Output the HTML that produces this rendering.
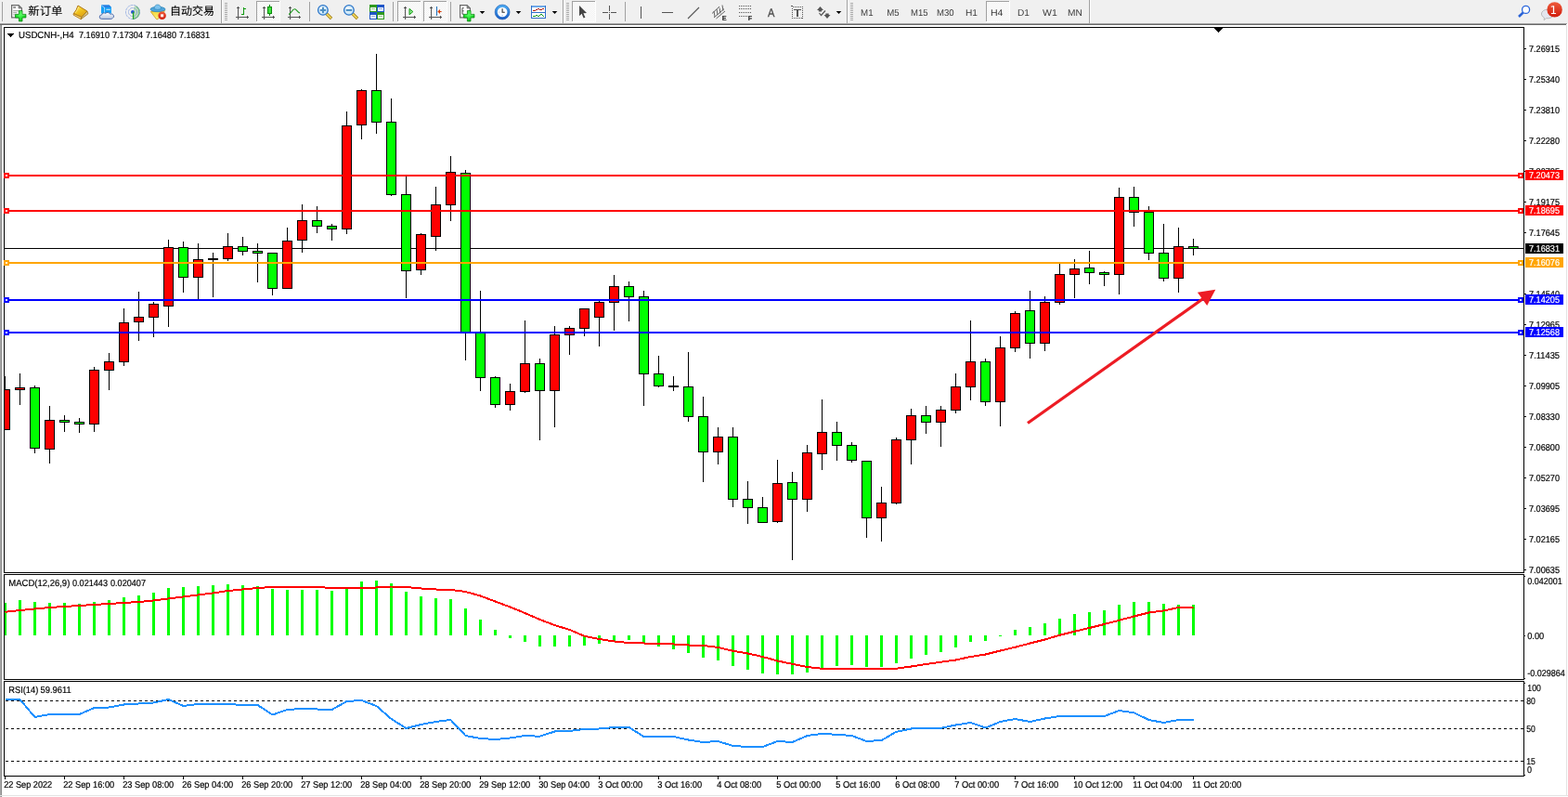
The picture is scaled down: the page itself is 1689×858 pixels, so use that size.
<!DOCTYPE html>
<html lang="zh-CN"><head><meta charset="utf-8"><title>USDCNH-,H4</title>
<style>
html,body{margin:0;padding:0;background:#fff;}
body{width:1689px;height:858px;overflow:hidden;position:relative;font-family:"Liberation Sans","Noto Sans CJK SC",sans-serif;}
.chart{position:absolute;left:0;top:0;display:block;}
.tb{position:absolute;left:0;top:0;width:1689px;height:25px;background:#f0f0f0;}
.tbl1{position:absolute;left:0;top:25px;width:1688px;height:1px;background:#a0a0a0;}
.tbl2{position:absolute;left:0;top:26px;width:1687px;height:1px;background:#696969;}
.tb svg{position:absolute;left:0;top:0;}
.t{position:absolute;white-space:nowrap;color:#000;line-height:1;}
</style></head>
<body>
<svg class="chart" width="1689" height="858" viewBox="0 0 1689 858" font-family="Liberation Sans, sans-serif" shape-rendering="crispEdges" text-rendering="geometricPrecision">
<defs><clipPath id="cm"><rect x="5" y="30" width="1636" height="586"/></clipPath><clipPath id="c2"><rect x="5" y="619" width="1636" height="112"/></clipPath><clipPath id="c3"><rect x="5" y="734" width="1636" height="101"/></clipPath></defs>
<rect x="0" y="27" width="1" height="831" fill="#a8a8a8"/>
<rect x="1" y="27" width="1" height="831" fill="#8c8c8c"/>
<rect x="1687" y="27" width="1" height="830" fill="#e3e3e3"/>
<rect x="0" y="856" width="1689" height="1" fill="#e3e3e3"/>
<rect x="4" y="29" width="1638" height="1" fill="#000"/>
<rect x="4" y="29" width="1" height="588" fill="#000"/>
<rect x="1641" y="29" width="1" height="588" fill="#000"/>
<rect x="4" y="616" width="1638" height="1" fill="#000"/>
<rect x="4" y="618" width="1638" height="1" fill="#000"/>
<rect x="4" y="618" width="1" height="114" fill="#000"/>
<rect x="1641" y="618" width="1" height="114" fill="#000"/>
<rect x="4" y="731" width="1638" height="1" fill="#000"/>
<rect x="4" y="733" width="1638" height="1" fill="#000"/>
<rect x="4" y="733" width="1" height="103" fill="#000"/>
<rect x="1641" y="733" width="1" height="103" fill="#000"/>
<rect x="4" y="835" width="1638" height="1" fill="#000"/>
<g clip-path="url(#cm)">
<rect x="5" y="267" width="1636" height="1" fill="#000"/>
<rect x="5" y="405" width="1" height="58" fill="#000"/>
<rect x="0" y="419" width="11" height="44" fill="#000"/>
<rect x="1" y="420" width="9" height="42" fill="#ff0000"/>
<rect x="21" y="402" width="1" height="34" fill="#000"/>
<rect x="16" y="417" width="11" height="3" fill="#000"/>
<rect x="17" y="418" width="9" height="1" fill="#ff0000"/>
<rect x="37" y="415" width="1" height="73" fill="#000"/>
<rect x="32" y="417" width="11" height="66" fill="#000"/>
<rect x="33" y="418" width="9" height="64" fill="#00ff00"/>
<rect x="53" y="437" width="1" height="62" fill="#000"/>
<rect x="48" y="452" width="11" height="32" fill="#000"/>
<rect x="49" y="453" width="9" height="30" fill="#ff0000"/>
<rect x="69" y="447" width="1" height="18" fill="#000"/>
<rect x="64" y="452" width="11" height="3" fill="#000"/>
<rect x="65" y="453" width="9" height="1" fill="#00ff00"/>
<rect x="85" y="450" width="1" height="16" fill="#000"/>
<rect x="80" y="454" width="11" height="3" fill="#000"/>
<rect x="81" y="455" width="9" height="1" fill="#00ff00"/>
<rect x="101" y="395" width="1" height="70" fill="#000"/>
<rect x="96" y="398" width="11" height="59" fill="#000"/>
<rect x="97" y="399" width="9" height="57" fill="#ff0000"/>
<rect x="117" y="380" width="1" height="40" fill="#000"/>
<rect x="112" y="389" width="11" height="10" fill="#000"/>
<rect x="113" y="390" width="9" height="8" fill="#ff0000"/>
<rect x="133" y="332" width="1" height="62" fill="#000"/>
<rect x="128" y="347" width="11" height="43" fill="#000"/>
<rect x="129" y="348" width="9" height="41" fill="#ff0000"/>
<rect x="149" y="314" width="1" height="53" fill="#000"/>
<rect x="144" y="341" width="11" height="6" fill="#000"/>
<rect x="145" y="342" width="9" height="4" fill="#ff0000"/>
<rect x="165" y="325" width="1" height="38" fill="#000"/>
<rect x="160" y="327" width="11" height="15" fill="#000"/>
<rect x="161" y="328" width="9" height="13" fill="#ff0000"/>
<rect x="181" y="258" width="1" height="94" fill="#000"/>
<rect x="176" y="266" width="11" height="64" fill="#000"/>
<rect x="177" y="267" width="9" height="62" fill="#ff0000"/>
<rect x="197" y="260" width="1" height="55" fill="#000"/>
<rect x="192" y="266" width="11" height="33" fill="#000"/>
<rect x="193" y="267" width="9" height="31" fill="#00ff00"/>
<rect x="213" y="262" width="1" height="60" fill="#000"/>
<rect x="208" y="279" width="11" height="20" fill="#000"/>
<rect x="209" y="280" width="9" height="18" fill="#ff0000"/>
<rect x="229" y="272" width="1" height="48" fill="#000"/>
<rect x="224" y="278" width="11" height="2" fill="#000"/>
<rect x="245" y="251" width="1" height="30" fill="#000"/>
<rect x="240" y="265" width="11" height="14" fill="#000"/>
<rect x="241" y="266" width="9" height="12" fill="#ff0000"/>
<rect x="261" y="255" width="1" height="20" fill="#000"/>
<rect x="256" y="265" width="11" height="6" fill="#000"/>
<rect x="257" y="266" width="9" height="4" fill="#00ff00"/>
<rect x="277" y="262" width="1" height="42" fill="#000"/>
<rect x="272" y="270" width="11" height="3" fill="#000"/>
<rect x="273" y="271" width="9" height="1" fill="#00ff00"/>
<rect x="293" y="272" width="1" height="46" fill="#000"/>
<rect x="288" y="272" width="11" height="39" fill="#000"/>
<rect x="289" y="273" width="9" height="37" fill="#00ff00"/>
<rect x="309" y="245" width="1" height="66" fill="#000"/>
<rect x="304" y="259" width="11" height="52" fill="#000"/>
<rect x="305" y="260" width="9" height="50" fill="#ff0000"/>
<rect x="325" y="220" width="1" height="52" fill="#000"/>
<rect x="320" y="237" width="11" height="22" fill="#000"/>
<rect x="321" y="238" width="9" height="20" fill="#ff0000"/>
<rect x="341" y="222" width="1" height="29" fill="#000"/>
<rect x="336" y="237" width="11" height="7" fill="#000"/>
<rect x="337" y="238" width="9" height="5" fill="#00ff00"/>
<rect x="357" y="241" width="1" height="18" fill="#000"/>
<rect x="352" y="243" width="11" height="4" fill="#000"/>
<rect x="353" y="244" width="9" height="2" fill="#00ff00"/>
<rect x="373" y="120" width="1" height="132" fill="#000"/>
<rect x="368" y="135" width="11" height="112" fill="#000"/>
<rect x="369" y="136" width="9" height="110" fill="#ff0000"/>
<rect x="389" y="96" width="1" height="54" fill="#000"/>
<rect x="384" y="97" width="11" height="38" fill="#000"/>
<rect x="385" y="98" width="9" height="36" fill="#ff0000"/>
<rect x="405" y="58" width="1" height="86" fill="#000"/>
<rect x="400" y="97" width="11" height="35" fill="#000"/>
<rect x="401" y="98" width="9" height="33" fill="#00ff00"/>
<rect x="421" y="106" width="1" height="105" fill="#000"/>
<rect x="416" y="131" width="11" height="79" fill="#000"/>
<rect x="417" y="132" width="9" height="77" fill="#00ff00"/>
<rect x="437" y="190" width="1" height="131" fill="#000"/>
<rect x="432" y="209" width="11" height="83" fill="#000"/>
<rect x="433" y="210" width="9" height="81" fill="#00ff00"/>
<rect x="453" y="251" width="1" height="45" fill="#000"/>
<rect x="448" y="252" width="11" height="39" fill="#000"/>
<rect x="449" y="253" width="9" height="37" fill="#ff0000"/>
<rect x="469" y="201" width="1" height="69" fill="#000"/>
<rect x="464" y="220" width="11" height="35" fill="#000"/>
<rect x="465" y="221" width="9" height="33" fill="#ff0000"/>
<rect x="485" y="168" width="1" height="70" fill="#000"/>
<rect x="480" y="185" width="11" height="36" fill="#000"/>
<rect x="481" y="186" width="9" height="34" fill="#ff0000"/>
<rect x="501" y="183" width="1" height="205" fill="#000"/>
<rect x="496" y="186" width="11" height="172" fill="#000"/>
<rect x="497" y="187" width="9" height="170" fill="#00ff00"/>
<rect x="517" y="313" width="1" height="108" fill="#000"/>
<rect x="512" y="358" width="11" height="49" fill="#000"/>
<rect x="513" y="359" width="9" height="47" fill="#00ff00"/>
<rect x="533" y="405" width="1" height="34" fill="#000"/>
<rect x="528" y="406" width="11" height="30" fill="#000"/>
<rect x="529" y="407" width="9" height="28" fill="#00ff00"/>
<rect x="549" y="413" width="1" height="29" fill="#000"/>
<rect x="544" y="421" width="11" height="15" fill="#000"/>
<rect x="545" y="422" width="9" height="13" fill="#ff0000"/>
<rect x="565" y="345" width="1" height="78" fill="#000"/>
<rect x="560" y="391" width="11" height="31" fill="#000"/>
<rect x="561" y="392" width="9" height="29" fill="#ff0000"/>
<rect x="581" y="386" width="1" height="88" fill="#000"/>
<rect x="576" y="391" width="11" height="30" fill="#000"/>
<rect x="577" y="392" width="9" height="28" fill="#00ff00"/>
<rect x="597" y="351" width="1" height="109" fill="#000"/>
<rect x="592" y="360" width="11" height="61" fill="#000"/>
<rect x="593" y="361" width="9" height="59" fill="#ff0000"/>
<rect x="613" y="351" width="1" height="31" fill="#000"/>
<rect x="608" y="353" width="11" height="8" fill="#000"/>
<rect x="609" y="354" width="9" height="6" fill="#ff0000"/>
<rect x="629" y="332" width="1" height="30" fill="#000"/>
<rect x="624" y="332" width="11" height="22" fill="#000"/>
<rect x="625" y="333" width="9" height="20" fill="#ff0000"/>
<rect x="645" y="324" width="1" height="49" fill="#000"/>
<rect x="640" y="325" width="11" height="17" fill="#000"/>
<rect x="641" y="326" width="9" height="15" fill="#ff0000"/>
<rect x="661" y="296" width="1" height="60" fill="#000"/>
<rect x="656" y="308" width="11" height="18" fill="#000"/>
<rect x="657" y="309" width="9" height="16" fill="#ff0000"/>
<rect x="677" y="303" width="1" height="43" fill="#000"/>
<rect x="672" y="308" width="11" height="12" fill="#000"/>
<rect x="673" y="309" width="9" height="10" fill="#00ff00"/>
<rect x="693" y="313" width="1" height="124" fill="#000"/>
<rect x="688" y="319" width="11" height="84" fill="#000"/>
<rect x="689" y="320" width="9" height="82" fill="#00ff00"/>
<rect x="709" y="383" width="1" height="34" fill="#000"/>
<rect x="704" y="402" width="11" height="14" fill="#000"/>
<rect x="705" y="403" width="9" height="12" fill="#00ff00"/>
<rect x="725" y="405" width="1" height="16" fill="#000"/>
<rect x="720" y="415" width="11" height="2" fill="#000"/>
<rect x="741" y="379" width="1" height="75" fill="#000"/>
<rect x="736" y="416" width="11" height="33" fill="#000"/>
<rect x="737" y="417" width="9" height="31" fill="#00ff00"/>
<rect x="757" y="427" width="1" height="92" fill="#000"/>
<rect x="752" y="448" width="11" height="39" fill="#000"/>
<rect x="753" y="449" width="9" height="37" fill="#00ff00"/>
<rect x="773" y="460" width="1" height="40" fill="#000"/>
<rect x="768" y="470" width="11" height="17" fill="#000"/>
<rect x="769" y="471" width="9" height="15" fill="#ff0000"/>
<rect x="789" y="460" width="1" height="86" fill="#000"/>
<rect x="784" y="470" width="11" height="68" fill="#000"/>
<rect x="785" y="471" width="9" height="66" fill="#00ff00"/>
<rect x="805" y="518" width="1" height="46" fill="#000"/>
<rect x="800" y="537" width="11" height="10" fill="#000"/>
<rect x="801" y="538" width="9" height="8" fill="#00ff00"/>
<rect x="821" y="535" width="1" height="28" fill="#000"/>
<rect x="816" y="546" width="11" height="17" fill="#000"/>
<rect x="817" y="547" width="9" height="15" fill="#00ff00"/>
<rect x="837" y="495" width="1" height="68" fill="#000"/>
<rect x="832" y="520" width="11" height="42" fill="#000"/>
<rect x="833" y="521" width="9" height="40" fill="#ff0000"/>
<rect x="853" y="508" width="1" height="95" fill="#000"/>
<rect x="848" y="519" width="11" height="19" fill="#000"/>
<rect x="849" y="520" width="9" height="17" fill="#00ff00"/>
<rect x="869" y="479" width="1" height="72" fill="#000"/>
<rect x="864" y="487" width="11" height="51" fill="#000"/>
<rect x="865" y="488" width="9" height="49" fill="#ff0000"/>
<rect x="885" y="430" width="1" height="76" fill="#000"/>
<rect x="880" y="465" width="11" height="24" fill="#000"/>
<rect x="881" y="466" width="9" height="22" fill="#ff0000"/>
<rect x="901" y="454" width="1" height="42" fill="#000"/>
<rect x="896" y="465" width="11" height="15" fill="#000"/>
<rect x="897" y="466" width="9" height="13" fill="#00ff00"/>
<rect x="917" y="476" width="1" height="22" fill="#000"/>
<rect x="912" y="479" width="11" height="17" fill="#000"/>
<rect x="913" y="480" width="9" height="15" fill="#00ff00"/>
<rect x="933" y="496" width="1" height="83" fill="#000"/>
<rect x="928" y="496" width="11" height="62" fill="#000"/>
<rect x="929" y="497" width="9" height="60" fill="#00ff00"/>
<rect x="949" y="524" width="1" height="59" fill="#000"/>
<rect x="944" y="541" width="11" height="17" fill="#000"/>
<rect x="945" y="542" width="9" height="15" fill="#ff0000"/>
<rect x="965" y="471" width="1" height="72" fill="#000"/>
<rect x="960" y="473" width="11" height="69" fill="#000"/>
<rect x="961" y="474" width="9" height="67" fill="#ff0000"/>
<rect x="981" y="440" width="1" height="60" fill="#000"/>
<rect x="976" y="447" width="11" height="27" fill="#000"/>
<rect x="977" y="448" width="9" height="25" fill="#ff0000"/>
<rect x="997" y="437" width="1" height="30" fill="#000"/>
<rect x="992" y="447" width="11" height="8" fill="#000"/>
<rect x="993" y="448" width="9" height="6" fill="#00ff00"/>
<rect x="1013" y="437" width="1" height="44" fill="#000"/>
<rect x="1008" y="441" width="11" height="14" fill="#000"/>
<rect x="1009" y="442" width="9" height="12" fill="#ff0000"/>
<rect x="1029" y="402" width="1" height="43" fill="#000"/>
<rect x="1024" y="416" width="11" height="26" fill="#000"/>
<rect x="1025" y="417" width="9" height="24" fill="#ff0000"/>
<rect x="1045" y="345" width="1" height="86" fill="#000"/>
<rect x="1040" y="389" width="11" height="28" fill="#000"/>
<rect x="1041" y="390" width="9" height="26" fill="#ff0000"/>
<rect x="1061" y="386" width="1" height="51" fill="#000"/>
<rect x="1056" y="389" width="11" height="44" fill="#000"/>
<rect x="1057" y="390" width="9" height="42" fill="#00ff00"/>
<rect x="1077" y="362" width="1" height="97" fill="#000"/>
<rect x="1072" y="374" width="11" height="59" fill="#000"/>
<rect x="1073" y="375" width="9" height="57" fill="#ff0000"/>
<rect x="1093" y="335" width="1" height="44" fill="#000"/>
<rect x="1088" y="337" width="11" height="38" fill="#000"/>
<rect x="1089" y="338" width="9" height="36" fill="#ff0000"/>
<rect x="1109" y="313" width="1" height="73" fill="#000"/>
<rect x="1104" y="334" width="11" height="36" fill="#000"/>
<rect x="1105" y="335" width="9" height="34" fill="#00ff00"/>
<rect x="1125" y="319" width="1" height="59" fill="#000"/>
<rect x="1120" y="325" width="11" height="45" fill="#000"/>
<rect x="1121" y="326" width="9" height="43" fill="#ff0000"/>
<rect x="1141" y="284" width="1" height="44" fill="#000"/>
<rect x="1136" y="295" width="11" height="31" fill="#000"/>
<rect x="1137" y="296" width="9" height="29" fill="#ff0000"/>
<rect x="1157" y="279" width="1" height="42" fill="#000"/>
<rect x="1152" y="289" width="11" height="7" fill="#000"/>
<rect x="1153" y="290" width="9" height="5" fill="#ff0000"/>
<rect x="1173" y="270" width="1" height="36" fill="#000"/>
<rect x="1168" y="288" width="11" height="6" fill="#000"/>
<rect x="1169" y="289" width="9" height="4" fill="#00ff00"/>
<rect x="1189" y="292" width="1" height="16" fill="#000"/>
<rect x="1184" y="293" width="11" height="3" fill="#000"/>
<rect x="1185" y="294" width="9" height="1" fill="#00ff00"/>
<rect x="1205" y="202" width="1" height="115" fill="#000"/>
<rect x="1200" y="212" width="11" height="84" fill="#000"/>
<rect x="1201" y="213" width="9" height="82" fill="#ff0000"/>
<rect x="1221" y="201" width="1" height="43" fill="#000"/>
<rect x="1216" y="212" width="11" height="17" fill="#000"/>
<rect x="1217" y="213" width="9" height="15" fill="#00ff00"/>
<rect x="1237" y="222" width="1" height="58" fill="#000"/>
<rect x="1232" y="228" width="11" height="45" fill="#000"/>
<rect x="1233" y="229" width="9" height="43" fill="#00ff00"/>
<rect x="1253" y="241" width="1" height="62" fill="#000"/>
<rect x="1248" y="272" width="11" height="28" fill="#000"/>
<rect x="1249" y="273" width="9" height="26" fill="#00ff00"/>
<rect x="1269" y="245" width="1" height="70" fill="#000"/>
<rect x="1264" y="265" width="11" height="35" fill="#000"/>
<rect x="1265" y="266" width="9" height="33" fill="#ff0000"/>
<rect x="1285" y="257" width="1" height="18" fill="#000"/>
<rect x="1280" y="265" width="11" height="3" fill="#000"/>
<rect x="1281" y="266" width="9" height="1" fill="#00ff00"/>
</g>
<rect x="5" y="188" width="1636" height="2" fill="#ff0000"/>
<rect x="5" y="226" width="1636" height="2" fill="#ff0000"/>
<rect x="5" y="282" width="1636" height="2" fill="#ffa500"/>
<rect x="5" y="322" width="1636" height="2" fill="#0000ff"/>
<rect x="5" y="357" width="1636" height="2" fill="#0000ff"/>
<g shape-rendering="auto"><line x1="1107" y1="455.5" x2="1296" y2="321.5" stroke="#ed1c24" stroke-width="3.2"/><polygon points="1309.3,311.7 1289.9,314.7 1300.2,329" fill="#ed1c24"/></g>
<rect x="4" y="186" width="6" height="6" fill="#ff0000"/>
<rect x="6" y="188" width="2" height="2" fill="#fff"/>
<rect x="1635" y="186" width="6" height="6" fill="#ff0000"/>
<rect x="1637" y="188" width="2" height="2" fill="#fff"/>
<rect x="4" y="224" width="6" height="6" fill="#ff0000"/>
<rect x="6" y="226" width="2" height="2" fill="#fff"/>
<rect x="1635" y="224" width="6" height="6" fill="#ff0000"/>
<rect x="1637" y="226" width="2" height="2" fill="#fff"/>
<rect x="4" y="280" width="6" height="6" fill="#ffa500"/>
<rect x="6" y="282" width="2" height="2" fill="#fff"/>
<rect x="1635" y="280" width="6" height="6" fill="#ffa500"/>
<rect x="1637" y="282" width="2" height="2" fill="#fff"/>
<rect x="4" y="320" width="6" height="6" fill="#0000ff"/>
<rect x="6" y="322" width="2" height="2" fill="#fff"/>
<rect x="1635" y="320" width="6" height="6" fill="#0000ff"/>
<rect x="1637" y="322" width="2" height="2" fill="#fff"/>
<rect x="4" y="355" width="6" height="6" fill="#0000ff"/>
<rect x="6" y="357" width="2" height="2" fill="#fff"/>
<rect x="1635" y="355" width="6" height="6" fill="#0000ff"/>
<rect x="1637" y="357" width="2" height="2" fill="#fff"/>
<rect x="1642" y="52" width="2" height="1" fill="#000"/>
<text x="1647" y="56" font-size="10" fill="#000" stroke="#000" stroke-width="0.2" textLength="33" lengthAdjust="spacingAndGlyphs" xml:space="preserve">7.26915</text>
<rect x="1642" y="85" width="2" height="1" fill="#000"/>
<text x="1647" y="89" font-size="10" fill="#000" stroke="#000" stroke-width="0.2" textLength="33" lengthAdjust="spacingAndGlyphs" xml:space="preserve">7.25340</text>
<rect x="1642" y="118" width="2" height="1" fill="#000"/>
<text x="1647" y="122" font-size="10" fill="#000" stroke="#000" stroke-width="0.2" textLength="33" lengthAdjust="spacingAndGlyphs" xml:space="preserve">7.23810</text>
<rect x="1642" y="151" width="2" height="1" fill="#000"/>
<text x="1647" y="155" font-size="10" fill="#000" stroke="#000" stroke-width="0.2" textLength="33" lengthAdjust="spacingAndGlyphs" xml:space="preserve">7.22280</text>
<rect x="1642" y="184" width="2" height="1" fill="#000"/>
<text x="1647" y="188" font-size="10" fill="#000" stroke="#000" stroke-width="0.2" textLength="33" lengthAdjust="spacingAndGlyphs" xml:space="preserve">7.20705</text>
<rect x="1642" y="217" width="2" height="1" fill="#000"/>
<text x="1647" y="221" font-size="10" fill="#000" stroke="#000" stroke-width="0.2" textLength="33" lengthAdjust="spacingAndGlyphs" xml:space="preserve">7.19175</text>
<rect x="1642" y="250" width="2" height="1" fill="#000"/>
<text x="1647" y="254" font-size="10" fill="#000" stroke="#000" stroke-width="0.2" textLength="33" lengthAdjust="spacingAndGlyphs" xml:space="preserve">7.17645</text>
<rect x="1642" y="316" width="2" height="1" fill="#000"/>
<text x="1647" y="320" font-size="10" fill="#000" stroke="#000" stroke-width="0.2" textLength="33" lengthAdjust="spacingAndGlyphs" xml:space="preserve">7.14540</text>
<rect x="1642" y="349" width="2" height="1" fill="#000"/>
<text x="1647" y="353" font-size="10" fill="#000" stroke="#000" stroke-width="0.2" textLength="33" lengthAdjust="spacingAndGlyphs" xml:space="preserve">7.12965</text>
<rect x="1642" y="382" width="2" height="1" fill="#000"/>
<text x="1647" y="386" font-size="10" fill="#000" stroke="#000" stroke-width="0.2" textLength="33" lengthAdjust="spacingAndGlyphs" xml:space="preserve">7.11435</text>
<rect x="1642" y="415" width="2" height="1" fill="#000"/>
<text x="1647" y="419" font-size="10" fill="#000" stroke="#000" stroke-width="0.2" textLength="33" lengthAdjust="spacingAndGlyphs" xml:space="preserve">7.09905</text>
<rect x="1642" y="448" width="2" height="1" fill="#000"/>
<text x="1647" y="452" font-size="10" fill="#000" stroke="#000" stroke-width="0.2" textLength="33" lengthAdjust="spacingAndGlyphs" xml:space="preserve">7.08330</text>
<rect x="1642" y="481" width="2" height="1" fill="#000"/>
<text x="1647" y="485" font-size="10" fill="#000" stroke="#000" stroke-width="0.2" textLength="33" lengthAdjust="spacingAndGlyphs" xml:space="preserve">7.06800</text>
<rect x="1642" y="514" width="2" height="1" fill="#000"/>
<text x="1647" y="518" font-size="10" fill="#000" stroke="#000" stroke-width="0.2" textLength="33" lengthAdjust="spacingAndGlyphs" xml:space="preserve">7.05270</text>
<rect x="1642" y="547" width="2" height="1" fill="#000"/>
<text x="1647" y="551" font-size="10" fill="#000" stroke="#000" stroke-width="0.2" textLength="33" lengthAdjust="spacingAndGlyphs" xml:space="preserve">7.03695</text>
<rect x="1642" y="580" width="2" height="1" fill="#000"/>
<text x="1647" y="584" font-size="10" fill="#000" stroke="#000" stroke-width="0.2" textLength="33" lengthAdjust="spacingAndGlyphs" xml:space="preserve">7.02165</text>
<rect x="1642" y="613" width="2" height="1" fill="#000"/>
<text x="1647" y="617" font-size="10" fill="#000" stroke="#000" stroke-width="0.2" textLength="33" lengthAdjust="spacingAndGlyphs" xml:space="preserve">7.00635</text>
<rect x="1642" y="620" width="1" height="1" fill="#000"/>
<text x="1645.2" y="629" font-size="10" fill="#000" stroke="#000" stroke-width="0.2" textLength="37.5" lengthAdjust="spacingAndGlyphs" xml:space="preserve">0.042001</text>
<rect x="1642" y="684" width="1" height="1" fill="#000"/>
<text x="1645.2" y="688" font-size="10" fill="#000" stroke="#000" stroke-width="0.2" textLength="18" lengthAdjust="spacingAndGlyphs" xml:space="preserve">0.00</text>
<rect x="1642" y="730" width="1" height="1" fill="#000"/>
<text x="1645.2" y="728" font-size="10" fill="#000" stroke="#000" stroke-width="0.2" textLength="40.5" lengthAdjust="spacingAndGlyphs" xml:space="preserve">-0.029864</text>
<rect x="1642" y="735" width="1" height="1" fill="#000"/>
<text x="1645.3" y="744" font-size="10" fill="#000" stroke="#000" stroke-width="0.2" textLength="14.5" lengthAdjust="spacingAndGlyphs" xml:space="preserve">100</text>
<text x="1644.3" y="758" font-size="10" fill="#000" stroke="#000" stroke-width="0.2" textLength="9.6" lengthAdjust="spacingAndGlyphs" xml:space="preserve">80</text>
<text x="1644.3" y="788" font-size="10" fill="#000" stroke="#000" stroke-width="0.2" textLength="9.6" lengthAdjust="spacingAndGlyphs" xml:space="preserve">50</text>
<text x="1644.3" y="823" font-size="10" fill="#000" stroke="#000" stroke-width="0.2" textLength="9.6" lengthAdjust="spacingAndGlyphs" xml:space="preserve">15</text>
<text x="1645" y="832" font-size="10" fill="#000" stroke="#000" stroke-width="0.2" textLength="5" lengthAdjust="spacingAndGlyphs" xml:space="preserve">0</text>
<rect x="1642" y="834" width="1" height="1" fill="#000"/>
<rect x="1643" y="262" width="41" height="11" fill="#000"/>
<text x="1647" y="271" font-size="10" fill="#fff" stroke="#fff" stroke-width="0.2" textLength="33" lengthAdjust="spacingAndGlyphs" xml:space="preserve">7.16831</text>
<rect x="1643" y="183" width="41" height="11" fill="#ff0000"/>
<text x="1647" y="192" font-size="10" fill="#fff" stroke="#fff" stroke-width="0.2" textLength="33" lengthAdjust="spacingAndGlyphs" xml:space="preserve">7.20473</text>
<rect x="1643" y="221" width="41" height="11" fill="#ff0000"/>
<text x="1647" y="230" font-size="10" fill="#fff" stroke="#fff" stroke-width="0.2" textLength="33" lengthAdjust="spacingAndGlyphs" xml:space="preserve">7.18695</text>
<rect x="1643" y="277" width="41" height="11" fill="#ffa500"/>
<text x="1647" y="286" font-size="10" fill="#fff" stroke="#fff" stroke-width="0.2" textLength="33" lengthAdjust="spacingAndGlyphs" xml:space="preserve">7.16076</text>
<rect x="1643" y="317" width="41" height="11" fill="#0000ff"/>
<text x="1647" y="326" font-size="10" fill="#fff" stroke="#fff" stroke-width="0.2" textLength="33" lengthAdjust="spacingAndGlyphs" xml:space="preserve">7.14205</text>
<rect x="1643" y="352" width="41" height="11" fill="#0000ff"/>
<text x="1647" y="361" font-size="10" fill="#fff" stroke="#fff" stroke-width="0.2" textLength="33" lengthAdjust="spacingAndGlyphs" xml:space="preserve">7.12568</text>
<g clip-path="url(#c2)">
<rect x="4" y="649" width="3" height="35" fill="#00ff00"/>
<rect x="20" y="646" width="3" height="38" fill="#00ff00"/>
<rect x="36" y="648" width="3" height="36" fill="#00ff00"/>
<rect x="52" y="649" width="3" height="35" fill="#00ff00"/>
<rect x="68" y="649" width="3" height="35" fill="#00ff00"/>
<rect x="84" y="650" width="3" height="34" fill="#00ff00"/>
<rect x="100" y="648" width="3" height="36" fill="#00ff00"/>
<rect x="116" y="646" width="3" height="38" fill="#00ff00"/>
<rect x="132" y="643" width="3" height="41" fill="#00ff00"/>
<rect x="148" y="641" width="3" height="43" fill="#00ff00"/>
<rect x="164" y="638" width="3" height="46" fill="#00ff00"/>
<rect x="180" y="633" width="3" height="51" fill="#00ff00"/>
<rect x="196" y="632" width="3" height="52" fill="#00ff00"/>
<rect x="212" y="631" width="3" height="53" fill="#00ff00"/>
<rect x="228" y="630" width="3" height="54" fill="#00ff00"/>
<rect x="244" y="629" width="3" height="55" fill="#00ff00"/>
<rect x="260" y="630" width="3" height="54" fill="#00ff00"/>
<rect x="276" y="631" width="3" height="53" fill="#00ff00"/>
<rect x="292" y="634" width="3" height="50" fill="#00ff00"/>
<rect x="308" y="635" width="3" height="49" fill="#00ff00"/>
<rect x="324" y="635" width="3" height="49" fill="#00ff00"/>
<rect x="340" y="635" width="3" height="49" fill="#00ff00"/>
<rect x="356" y="636" width="3" height="48" fill="#00ff00"/>
<rect x="372" y="634" width="3" height="50" fill="#00ff00"/>
<rect x="388" y="626" width="3" height="58" fill="#00ff00"/>
<rect x="404" y="625" width="3" height="59" fill="#00ff00"/>
<rect x="420" y="628" width="3" height="56" fill="#00ff00"/>
<rect x="436" y="637" width="3" height="47" fill="#00ff00"/>
<rect x="452" y="642" width="3" height="42" fill="#00ff00"/>
<rect x="468" y="644" width="3" height="40" fill="#00ff00"/>
<rect x="484" y="645" width="3" height="39" fill="#00ff00"/>
<rect x="500" y="655" width="3" height="29" fill="#00ff00"/>
<rect x="516" y="667" width="3" height="17" fill="#00ff00"/>
<rect x="532" y="678" width="3" height="6" fill="#00ff00"/>
<rect x="548" y="684" width="3" height="3" fill="#00ff00"/>
<rect x="564" y="684" width="3" height="7" fill="#00ff00"/>
<rect x="580" y="684" width="3" height="12" fill="#00ff00"/>
<rect x="596" y="684" width="3" height="12" fill="#00ff00"/>
<rect x="612" y="684" width="3" height="12" fill="#00ff00"/>
<rect x="628" y="684" width="3" height="11" fill="#00ff00"/>
<rect x="644" y="684" width="3" height="9" fill="#00ff00"/>
<rect x="660" y="684" width="3" height="6" fill="#00ff00"/>
<rect x="676" y="684" width="3" height="5" fill="#00ff00"/>
<rect x="692" y="684" width="3" height="8" fill="#00ff00"/>
<rect x="708" y="684" width="3" height="12" fill="#00ff00"/>
<rect x="724" y="684" width="3" height="15" fill="#00ff00"/>
<rect x="740" y="684" width="3" height="19" fill="#00ff00"/>
<rect x="756" y="684" width="3" height="24" fill="#00ff00"/>
<rect x="772" y="684" width="3" height="27" fill="#00ff00"/>
<rect x="788" y="684" width="3" height="33" fill="#00ff00"/>
<rect x="804" y="684" width="3" height="37" fill="#00ff00"/>
<rect x="820" y="684" width="3" height="41" fill="#00ff00"/>
<rect x="836" y="684" width="3" height="42" fill="#00ff00"/>
<rect x="852" y="684" width="3" height="42" fill="#00ff00"/>
<rect x="868" y="684" width="3" height="40" fill="#00ff00"/>
<rect x="884" y="684" width="3" height="36" fill="#00ff00"/>
<rect x="900" y="684" width="3" height="33" fill="#00ff00"/>
<rect x="916" y="684" width="3" height="32" fill="#00ff00"/>
<rect x="932" y="684" width="3" height="34" fill="#00ff00"/>
<rect x="948" y="684" width="3" height="34" fill="#00ff00"/>
<rect x="964" y="684" width="3" height="30" fill="#00ff00"/>
<rect x="980" y="684" width="3" height="25" fill="#00ff00"/>
<rect x="996" y="684" width="3" height="21" fill="#00ff00"/>
<rect x="1012" y="684" width="3" height="18" fill="#00ff00"/>
<rect x="1028" y="684" width="3" height="13" fill="#00ff00"/>
<rect x="1044" y="684" width="3" height="7" fill="#00ff00"/>
<rect x="1060" y="684" width="3" height="6" fill="#00ff00"/>
<rect x="1076" y="684" width="3" height="1" fill="#00ff00"/>
<rect x="1092" y="678" width="3" height="6" fill="#00ff00"/>
<rect x="1108" y="675" width="3" height="9" fill="#00ff00"/>
<rect x="1124" y="671" width="3" height="13" fill="#00ff00"/>
<rect x="1140" y="666" width="3" height="18" fill="#00ff00"/>
<rect x="1156" y="661" width="3" height="23" fill="#00ff00"/>
<rect x="1172" y="659" width="3" height="25" fill="#00ff00"/>
<rect x="1188" y="657" width="3" height="27" fill="#00ff00"/>
<rect x="1204" y="651" width="3" height="33" fill="#00ff00"/>
<rect x="1220" y="648" width="3" height="36" fill="#00ff00"/>
<rect x="1236" y="648" width="3" height="36" fill="#00ff00"/>
<rect x="1252" y="650" width="3" height="34" fill="#00ff00"/>
<rect x="1268" y="651" width="3" height="33" fill="#00ff00"/>
<rect x="1284" y="651" width="3" height="33" fill="#00ff00"/>
<polyline points="5.5,658.75 21.5,657 37.5,655.5 53.5,654 69.5,653 85.5,652 101.5,651 117.5,650 133.5,649 149.5,648 165.5,646.5 181.5,644.5 197.5,642.5 213.5,640.5 229.5,638.5 245.5,636 261.5,634.5 277.5,633 293.5,632 309.5,632 325.5,632 341.5,632 357.5,633 373.5,633 389.5,633 405.5,632.5 421.5,631.5 437.5,632 453.5,633.5 469.5,634.5 485.5,635 501.5,637 517.5,641.5 533.5,647.5 549.5,653.5 565.5,660 581.5,667 597.5,673 613.5,678 629.5,684.75 645.5,688 661.5,690.5 677.5,692 693.5,692.5 709.5,693 725.5,693.5 741.5,694.5 757.5,695 773.5,697 789.5,700.75 805.5,703.5 821.5,707 837.5,711.5 853.5,714.75 869.5,718 885.5,719.75 901.5,720 917.5,720 933.5,720 949.5,720 965.5,719.75 981.5,717.5 997.5,715 1013.5,712.75 1029.5,710.5 1045.5,707 1061.5,704.5 1077.5,700.5 1093.5,696.75 1109.5,692.5 1125.5,688.5 1141.5,683.75 1157.5,679.75 1173.5,676 1189.5,672 1205.5,667.75 1221.5,663.5 1237.5,659.5 1253.5,657.5 1269.5,654 1285.5,653.75" fill="none" stroke="#ff0000" stroke-width="2" stroke-linejoin="round"/>
</g>
<text x="9.3" y="631" font-size="10" fill="#000" stroke="#000" stroke-width="0.2" textLength="66" lengthAdjust="spacingAndGlyphs" xml:space="preserve">MACD(12,26,9)</text>
<text x="78" y="631" font-size="10" fill="#000" stroke="#000" stroke-width="0.2" textLength="38" lengthAdjust="spacingAndGlyphs" xml:space="preserve">0.021443</text>
<text x="119" y="631" font-size="10" fill="#000" stroke="#000" stroke-width="0.2" textLength="38" lengthAdjust="spacingAndGlyphs" xml:space="preserve">0.020407</text>
<line x1="6" y1="754.5" x2="1641" y2="754.5" stroke="#000" stroke-width="1" stroke-dasharray="3 3"/>
<line x1="6" y1="784.5" x2="1641" y2="784.5" stroke="#000" stroke-width="1" stroke-dasharray="3 3"/>
<line x1="6" y1="819.5" x2="1641" y2="819.5" stroke="#000" stroke-width="1" stroke-dasharray="3 3"/>
<g clip-path="url(#c3)">
<polyline points="5.5,753 21.5,753 37.5,772 53.5,769 69.5,769 85.5,769 101.5,762 117.5,761.5 133.5,758.5 149.5,757.5 165.5,756.5 181.5,753 197.5,760 213.5,758 229.5,758 245.5,758 261.5,759 277.5,759 293.5,769.5 309.5,764 325.5,763 341.5,763.5 357.5,764 373.5,755 389.5,754 405.5,760 421.5,774 437.5,784 453.5,780 469.5,777 485.5,775 501.5,792 517.5,795 533.5,796 549.5,794.5 565.5,792 581.5,792.75 597.5,787.5 613.5,787 629.5,785 645.5,784.5 661.5,783 677.5,783 693.5,793 709.5,793 725.5,793 741.5,796.5 757.5,799 773.5,798 789.5,803 805.5,804 821.5,804 837.5,798 853.5,799 869.5,792 885.5,790 901.5,790.75 917.5,792 933.5,798 949.5,797 965.5,787.75 981.5,784.5 997.5,784 1013.5,783.75 1029.5,780.5 1045.5,778 1061.5,783.5 1077.5,777 1093.5,774 1109.5,777 1125.5,773.5 1141.5,771 1157.5,771 1173.5,771 1189.5,771 1205.5,765 1221.5,767.25 1237.5,775 1253.5,778 1269.5,775 1285.5,775" fill="none" stroke="#1e90ff" stroke-width="2" stroke-linejoin="round"/>
</g>
<text x="9.3" y="746" font-size="10" fill="#000" stroke="#000" stroke-width="0.2" textLength="32" lengthAdjust="spacingAndGlyphs" xml:space="preserve">RSI(14)</text>
<text x="43.6" y="746" font-size="10" fill="#000" stroke="#000" stroke-width="0.2" textLength="33" lengthAdjust="spacingAndGlyphs" xml:space="preserve">59.9611</text>
<rect x="8" y="36" width="7" height="1" fill="#000"/>
<rect x="9" y="37" width="5" height="1" fill="#000"/>
<rect x="10" y="38" width="3" height="1" fill="#000"/>
<rect x="11" y="39" width="1" height="1" fill="#000"/>
<text x="20" y="41" font-size="10" fill="#000" stroke="#000" stroke-width="0.2" textLength="59.5" lengthAdjust="spacingAndGlyphs" xml:space="preserve">USDCNH-,H4</text>
<text x="85" y="41" font-size="10" fill="#000" stroke="#000" stroke-width="0.2" textLength="33" lengthAdjust="spacingAndGlyphs" xml:space="preserve">7.16910</text>
<text x="121" y="41" font-size="10" fill="#000" stroke="#000" stroke-width="0.2" textLength="33" lengthAdjust="spacingAndGlyphs" xml:space="preserve">7.17304</text>
<text x="157" y="41" font-size="10" fill="#000" stroke="#000" stroke-width="0.2" textLength="33" lengthAdjust="spacingAndGlyphs" xml:space="preserve">7.16480</text>
<text x="193" y="41" font-size="10" fill="#000" stroke="#000" stroke-width="0.2" textLength="33" lengthAdjust="spacingAndGlyphs" xml:space="preserve">7.16831</text>
<rect x="1308" y="30" width="9" height="1" fill="#000"/>
<rect x="1309" y="31" width="7" height="1" fill="#000"/>
<rect x="1310" y="32" width="5" height="1" fill="#000"/>
<rect x="1311" y="33" width="3" height="1" fill="#000"/>
<rect x="1312" y="34" width="1" height="1" fill="#000"/>
<rect x="5" y="836" width="1" height="3" fill="#000"/>
<text x="4.2" y="848" font-size="10" fill="#000" stroke="#000" stroke-width="0.2" textLength="52" lengthAdjust="spacingAndGlyphs" xml:space="preserve">22 Sep 2022</text>
<rect x="69" y="836" width="1" height="3" fill="#000"/>
<text x="68.2" y="848" font-size="10" fill="#000" stroke="#000" stroke-width="0.2" textLength="55" lengthAdjust="spacingAndGlyphs" xml:space="preserve">22 Sep 16:00</text>
<rect x="133" y="836" width="1" height="3" fill="#000"/>
<text x="132.2" y="848" font-size="10" fill="#000" stroke="#000" stroke-width="0.2" textLength="55" lengthAdjust="spacingAndGlyphs" xml:space="preserve">23 Sep 08:00</text>
<rect x="197" y="836" width="1" height="3" fill="#000"/>
<text x="196.2" y="848" font-size="10" fill="#000" stroke="#000" stroke-width="0.2" textLength="55" lengthAdjust="spacingAndGlyphs" xml:space="preserve">26 Sep 04:00</text>
<rect x="261" y="836" width="1" height="3" fill="#000"/>
<text x="260.2" y="848" font-size="10" fill="#000" stroke="#000" stroke-width="0.2" textLength="55" lengthAdjust="spacingAndGlyphs" xml:space="preserve">26 Sep 20:00</text>
<rect x="325" y="836" width="1" height="3" fill="#000"/>
<text x="324.2" y="848" font-size="10" fill="#000" stroke="#000" stroke-width="0.2" textLength="55" lengthAdjust="spacingAndGlyphs" xml:space="preserve">27 Sep 12:00</text>
<rect x="389" y="836" width="1" height="3" fill="#000"/>
<text x="388.2" y="848" font-size="10" fill="#000" stroke="#000" stroke-width="0.2" textLength="55" lengthAdjust="spacingAndGlyphs" xml:space="preserve">28 Sep 04:00</text>
<rect x="453" y="836" width="1" height="3" fill="#000"/>
<text x="452.2" y="848" font-size="10" fill="#000" stroke="#000" stroke-width="0.2" textLength="55" lengthAdjust="spacingAndGlyphs" xml:space="preserve">28 Sep 20:00</text>
<rect x="517" y="836" width="1" height="3" fill="#000"/>
<text x="516.2" y="848" font-size="10" fill="#000" stroke="#000" stroke-width="0.2" textLength="55" lengthAdjust="spacingAndGlyphs" xml:space="preserve">29 Sep 12:00</text>
<rect x="581" y="836" width="1" height="3" fill="#000"/>
<text x="580.2" y="848" font-size="10" fill="#000" stroke="#000" stroke-width="0.2" textLength="55" lengthAdjust="spacingAndGlyphs" xml:space="preserve">30 Sep 04:00</text>
<rect x="645" y="836" width="1" height="3" fill="#000"/>
<text x="644.2" y="848" font-size="10" fill="#000" stroke="#000" stroke-width="0.2" textLength="48" lengthAdjust="spacingAndGlyphs" xml:space="preserve">3 Oct 00:00</text>
<rect x="709" y="836" width="1" height="3" fill="#000"/>
<text x="708.2" y="848" font-size="10" fill="#000" stroke="#000" stroke-width="0.2" textLength="48" lengthAdjust="spacingAndGlyphs" xml:space="preserve">3 Oct 16:00</text>
<rect x="773" y="836" width="1" height="3" fill="#000"/>
<text x="772.2" y="848" font-size="10" fill="#000" stroke="#000" stroke-width="0.2" textLength="48" lengthAdjust="spacingAndGlyphs" xml:space="preserve">4 Oct 08:00</text>
<rect x="837" y="836" width="1" height="3" fill="#000"/>
<text x="836.2" y="848" font-size="10" fill="#000" stroke="#000" stroke-width="0.2" textLength="48" lengthAdjust="spacingAndGlyphs" xml:space="preserve">5 Oct 00:00</text>
<rect x="901" y="836" width="1" height="3" fill="#000"/>
<text x="900.2" y="848" font-size="10" fill="#000" stroke="#000" stroke-width="0.2" textLength="48" lengthAdjust="spacingAndGlyphs" xml:space="preserve">5 Oct 16:00</text>
<rect x="965" y="836" width="1" height="3" fill="#000"/>
<text x="964.2" y="848" font-size="10" fill="#000" stroke="#000" stroke-width="0.2" textLength="48" lengthAdjust="spacingAndGlyphs" xml:space="preserve">6 Oct 08:00</text>
<rect x="1029" y="836" width="1" height="3" fill="#000"/>
<text x="1028.2" y="848" font-size="10" fill="#000" stroke="#000" stroke-width="0.2" textLength="48" lengthAdjust="spacingAndGlyphs" xml:space="preserve">7 Oct 00:00</text>
<rect x="1093" y="836" width="1" height="3" fill="#000"/>
<text x="1092.2" y="848" font-size="10" fill="#000" stroke="#000" stroke-width="0.2" textLength="48" lengthAdjust="spacingAndGlyphs" xml:space="preserve">7 Oct 16:00</text>
<rect x="1157" y="836" width="1" height="3" fill="#000"/>
<text x="1156.2" y="848" font-size="10" fill="#000" stroke="#000" stroke-width="0.2" textLength="53" lengthAdjust="spacingAndGlyphs" xml:space="preserve">10 Oct 12:00</text>
<rect x="1221" y="836" width="1" height="3" fill="#000"/>
<text x="1220.2" y="848" font-size="10" fill="#000" stroke="#000" stroke-width="0.2" textLength="53" lengthAdjust="spacingAndGlyphs" xml:space="preserve">11 Oct 04:00</text>
<rect x="1285" y="836" width="1" height="3" fill="#000"/>
<text x="1284.2" y="848" font-size="10" fill="#000" stroke="#000" stroke-width="0.2" textLength="53" lengthAdjust="spacingAndGlyphs" xml:space="preserve">11 Oct 20:00</text>
</svg>
<div class="tb"><svg width="1689" height="25" viewBox="0 0 1689 25" font-family="Liberation Sans, Noto Sans CJK SC, sans-serif" text-rendering="geometricPrecision">
<defs>
<pattern id="chk" width="2" height="2" patternUnits="userSpaceOnUse"><rect width="2" height="2" fill="#f0f0f0"/><rect width="1" height="1" fill="#fff"/><rect x="1" y="1" width="1" height="1" fill="#fff"/></pattern>
<radialGradient id="gplus" cx="0.45" cy="0.4" r="0.65"><stop offset="0" stop-color="#58ff66"/><stop offset="0.6" stop-color="#1fdc2c"/><stop offset="1" stop-color="#0fae18"/></radialGradient>
<linearGradient id="ggold" x1="0.2" y1="0" x2="0.8" y2="1"><stop offset="0" stop-color="#fbe96a"/><stop offset="0.45" stop-color="#f0c21c"/><stop offset="1" stop-color="#d99a14"/></linearGradient>
<linearGradient id="gblue" x1="0" y1="0" x2="0" y2="1"><stop offset="0" stop-color="#4aa8f0"/><stop offset="1" stop-color="#1c62c8"/></linearGradient>
<linearGradient id="gred" x1="0" y1="0" x2="0" y2="1"><stop offset="0" stop-color="#ee5a3a"/><stop offset="1" stop-color="#d01c0c"/></linearGradient>
<linearGradient id="gcloud" x1="0" y1="0" x2="0" y2="1"><stop offset="0" stop-color="#ffffff"/><stop offset="1" stop-color="#b8c6de"/></linearGradient>
<linearGradient id="gyel" x1="0" y1="0" x2="0.3" y2="1"><stop offset="0" stop-color="#f6d230"/><stop offset="1" stop-color="#f8f07a"/></linearGradient>
<radialGradient id="glens" cx="0.4" cy="0.35" r="0.7"><stop offset="0" stop-color="#f4fbff"/><stop offset="1" stop-color="#b9def5"/></radialGradient>
<g id="axes" fill="#555" shape-rendering="crispEdges">
 <rect x="2" y="1" width="1" height="14"/><rect x="0" y="12" width="14" height="1"/>
 <rect x="1" y="2" width="3" height="1"/><rect x="12" y="11" width="1" height="3"/>
</g>
<g id="dd"><polygon points="-0.3,-0.1 5.3,-0.1 2.5,3" fill="#000"/></g>
<g id="sep" shape-rendering="crispEdges"><rect x="0" y="2" width="1" height="21" fill="#a0a0a0"/></g>
<g id="sepf" shape-rendering="crispEdges"><rect x="0" y="0" width="1" height="25" fill="#a0a0a0"/><rect x="1" y="0" width="1" height="25" fill="#fff"/></g>
<g id="grip" shape-rendering="crispEdges" fill="#a9a9a9"><rect x="0" y="3" width="3" height="1"/><rect x="0" y="5" width="3" height="1"/><rect x="0" y="7" width="3" height="1"/><rect x="0" y="9" width="3" height="1"/><rect x="0" y="11" width="3" height="1"/><rect x="0" y="13" width="3" height="1"/><rect x="0" y="15" width="3" height="1"/><rect x="0" y="17" width="3" height="1"/><rect x="0" y="19" width="3" height="1"/><rect x="0" y="21" width="3" height="1"/></g>
<g id="press" shape-rendering="crispEdges"><rect x="0" y="0" width="26" height="23" fill="#fff"/><rect x="0" y="0" width="25" height="22" fill="#a0a0a0"/><rect x="1" y="1" width="24" height="21" fill="url(#chk)"/></g>
<g id="lens"><line x1="9.4" y1="9.4" x2="15" y2="15" stroke="#a07c14" stroke-width="3.3"/><line x1="9.6" y1="9.6" x2="14.6" y2="14.6" stroke="#f0d858" stroke-width="1.7"/><circle cx="5.9" cy="5.9" r="5.3" fill="url(#glens)" stroke="#2a74c8" stroke-width="1.3"/></g>
<g id="doc"><path d="M0.6,0.6 h7.4 l3.4,3.4 v9.8 h-10.8 z" fill="#fcfcfc" stroke="#6a6a6a" stroke-width="1.2"/><path d="M8,0.6 v3.4 h3.4 z" fill="#8a8a8a" stroke="#6a6a6a" stroke-width="0.6"/></g>
<g id="plus"><path d="M4.2,0.3 h3.6 v3.9 h3.9 v3.6 h-3.9 v3.9 h-3.6 v-3.9 h-3.9 v-3.6 h3.9 z" fill="url(#gplus)" stroke="#0a8a12" stroke-width="0.8" stroke-linejoin="round"/><path d="M5,1.2 h2 v3.8 h3.8" fill="none" stroke="#8ff58f" stroke-width="0.6" opacity="0.8"/></g>
</defs>
<rect x="0" y="0" width="1689" height="25" fill="#f0f0f0"/>
<rect x="2" y="2" width="1" height="21" fill="#a0a0a0" shape-rendering="crispEdges"/>
<g transform="translate(12,5)"><use href="#doc"/><rect x="2.2" y="2.2" width="2.8" height="1.6" fill="#7f7f7f"/><rect x="2.2" y="6.2" width="6.5" height="1" fill="#9a9a9a"/><rect x="2.2" y="8.2" width="4" height="1" fill="#9a9a9a"/><rect x="2.2" y="10.4" width="2" height="1" fill="#9a9a9a"/><g transform="translate(4.2,6.2)"><use href="#plus"/></g></g>
<text x="30.3" y="16.4" font-size="12" fill="#000" stroke="#000" stroke-width="0.1" textLength="37.2" lengthAdjust="spacingAndGlyphs">新订单</text>
<g><path d="M84,6 L93.9,12 L88,18.6 L79.3,14.6 Q82.6,10.8 84,6 Z" fill="url(#ggold)" stroke="#a96c0a" stroke-width="0.9" stroke-linejoin="round"/><path d="M79.3,14.6 L88,18.6 L87.2,20.7 L79,16 Z" fill="#f3d676" stroke="#a96c0a" stroke-width="0.8" stroke-linejoin="round"/><path d="M93.9,12 L94.9,14.8 L87.2,20.7 L88,18.6 Z" fill="#d9c78c" stroke="#a0700f" stroke-width="0.8" stroke-linejoin="round"/><path d="M84.6,7.6 Q83.6,11 81,14" stroke="#fff6b8" stroke-width="0.8" fill="none" opacity="0.8"/></g>
<g transform="translate(107,5)"><polygon points="2,0.4 10.6,0.4 12.9,2.8 12.9,9.5 2,9.5" fill="#18a0f6"/><polygon points="2,0.4 10.6,0.4 12.9,2.8 5.5,3" fill="#2a7de2"/><path d="M2.3,1 L5.5,3 V9.5" stroke="#e4f5ff" stroke-width="0.6" fill="none"/><rect x="7.4" y="4.8" width="4.3" height="0.9" fill="#e8f6ff"/><path d="M2.4,15.4 a2.3,2.2 0 0 1 0.2,-4.4 a2.5,2.4 0 0 1 4,-1.6 a3.1,3 0 0 1 5.2,0.9 a2.5,2.4 0 0 1 2.4,4.3 a2.4,2.4 0 0 1 -1.4,0.8 z" fill="url(#gcloud)" stroke="#4866a6" stroke-width="0.9" stroke-linejoin="round"/></g>
<g transform="translate(135,5)"><path d="M8,8 L8.6,15.8 A7.8,7.8 0 0 0 10.4,0.6 Z" fill="#7cc87c" opacity="0.45"/><circle cx="8" cy="8" r="7.5" fill="none" stroke="#5f86da" stroke-width="0.9" stroke-dasharray="3 0.6" opacity="0.6"/><circle cx="8" cy="8" r="4.6" fill="none" stroke="#5f86da" stroke-width="0.9" stroke-dasharray="3 0.6" opacity="0.6"/><path d="M12,2 A7.5,7.5 0 0 1 9,15.4" fill="none" stroke="#3f9a5a" stroke-width="1" opacity="0.7"/><circle cx="7.9" cy="7.9" r="1.9" fill="#2a55d0"/><rect x="7.9" y="8" width="1.3" height="7.8" fill="#1fa51f"/></g>
<g><path d="M162.3,12.6 L177.6,11.6 L170,20.8 L168.4,20.6 Z" fill="url(#gyel)" stroke="#c8920f" stroke-width="0.7" stroke-linejoin="round"/><ellipse cx="170" cy="10" rx="8" ry="2.7" fill="#4fa6dc" stroke="#2a82b4" stroke-width="0.7"/><path d="M166,9.6 Q166.4,5 169.8,5 Q173.2,5 173.6,9.6 Q169.8,11.2 166,9.6 Z" fill="#7cc3ee" stroke="#2a82b4" stroke-width="0.6"/><circle cx="174.6" cy="16.8" r="4.3" fill="url(#gred)"/><rect x="173.1" y="15.3" width="3" height="3" fill="#fff"/></g>
<text x="183" y="16.4" font-size="12" fill="#000" stroke="#000" stroke-width="0.1" textLength="48" lengthAdjust="spacingAndGlyphs">自动交易</text>
<use href="#sepf" x="238"/><use href="#grip" x="242"/>
<g transform="translate(254,6)"><use href="#axes"/><g fill="#109a10" shape-rendering="crispEdges"><rect x="8" y="2" width="1" height="8"/><rect x="9" y="3" width="2" height="1"/><rect x="6" y="9" width="2" height="1"/></g></g>
<use href="#press" x="276" y="1"/>
<g transform="translate(282,6)"><use href="#axes"/><g shape-rendering="crispEdges"><rect x="8" y="-1" width="1" height="12" fill="#0b8a0b"/><rect x="6" y="1" width="5" height="8" fill="#0b8a0b"/><rect x="7" y="2" width="3" height="6" fill="#3fe23f"/></g></g>
<g transform="translate(310,6)"><use href="#axes"/><path d="M1,9.5 C4,8 5,3.5 7.5,3.8 C9.5,4 10.5,7.5 13,8" fill="none" stroke="#1f9a1f" stroke-width="1.1"/></g>
<use href="#sep" x="333"/>
<g transform="translate(342,5)"><use href="#lens"/><rect x="5" y="2.7" width="1.9" height="6.4" fill="#4a8cc0"/><rect x="2.7" y="5" width="6.4" height="1.9" fill="#4a8cc0"/></g>
<g transform="translate(370,5)"><use href="#lens"/><rect x="2.7" y="5" width="6.4" height="1.9" fill="#4a8cc0"/></g>
<g transform="translate(398,5)" shape-rendering="crispEdges"><rect x="0" y="0" width="8" height="8" fill="#2f9a1f"/><rect x="8" y="0" width="8" height="8" fill="#1f55c8"/><rect x="0" y="8" width="8" height="8" fill="#1f55c8"/><rect x="8" y="8" width="8" height="8" fill="#2f9a1f"/><rect x="1" y="3" width="6" height="4" fill="#f4f8f4"/><rect x="9" y="3" width="6" height="4" fill="#f4f6fb"/><rect x="1" y="11" width="6" height="4" fill="#f4f6fb"/><rect x="9" y="11" width="6" height="4" fill="#f4f8f4"/><rect x="2" y="4" width="4" height="1" fill="#9fd09a"/><rect x="10" y="4" width="4" height="1" fill="#9ab0e0"/><rect x="2" y="12" width="4" height="1" fill="#9ab0e0"/><rect x="10" y="12" width="4" height="1" fill="#9fd09a"/></g>
<use href="#sep" x="423"/>
<use href="#press" x="428" y="1"/><g transform="translate(434,6)"><use href="#axes"/><polygon points="7,3.4 10.8,6.6 7,9.8" fill="#8fe88f" stroke="#109a10" stroke-width="1"/></g>
<use href="#press" x="456" y="1"/><g transform="translate(462,6)"><use href="#axes"/><rect x="8" y="1" width="1" height="10" fill="#1f6fb8" shape-rendering="crispEdges"/><path d="M13.6,6.5 H10" stroke="#d8400a" stroke-width="1.1" fill="none"/><polygon points="9.3,6.5 12,4 12,9" fill="#d8400a"/></g>
<use href="#sep" x="485"/>
<g transform="translate(495,5)"><use href="#doc"/><path d="M4.6,3.6 h-1.6 v6.6 h1.6 M3,6.8 h1.6" stroke="#444" stroke-width="0.9" fill="none"/><g transform="translate(4.2,6.2)"><use href="#plus"/></g></g>
<use href="#dd" x="517" y="12"/>
<g transform="translate(533,5)"><circle cx="8.1" cy="8" r="6.7" fill="#fbfdff" stroke="url(#gblue)" stroke-width="2.7"/><circle cx="8.1" cy="8" r="8" fill="none" stroke="#134fa8" stroke-width="0.5"/><path d="M8.1,4.2 V8.2 H10.8" stroke="#333" stroke-width="1.1" fill="none"/><circle cx="8.1" cy="11.6" r="0.6" fill="#7ab0e8"/><circle cx="4.6" cy="8" r="0.5" fill="#9ab"/></g>
<use href="#dd" x="556" y="12"/>
<g transform="translate(572,6)" shape-rendering="crispEdges"><rect x="0" y="0" width="16" height="14" fill="#2f6fc8"/><rect x="1" y="0" width="14" height="2" fill="#6fa8e8"/><rect x="1" y="2" width="14" height="5" fill="#fff"/><rect x="1" y="8" width="14" height="5" fill="#fff"/><rect x="2" y="5" width="3" height="1" fill="#b02010"/><rect x="5" y="4" width="2" height="1" fill="#b02010"/><rect x="7" y="3" width="2" height="1" fill="#b02010"/><rect x="9" y="4" width="3" height="1" fill="#b02010"/><rect x="12" y="3" width="2" height="1" fill="#b02010"/><rect x="2" y="11" width="3" height="1" fill="#109a20"/><rect x="5" y="10" width="2" height="1" fill="#109a20"/><rect x="7" y="11" width="2" height="1" fill="#109a20"/><rect x="9" y="10" width="1" height="1" fill="#109a20"/><rect x="10" y="9" width="2" height="1" fill="#109a20"/><rect x="12" y="10" width="1" height="1" fill="#109a20"/><rect x="13" y="11" width="1" height="1" fill="#109a20"/></g>
<use href="#dd" x="595" y="12"/>
<use href="#sepf" x="606"/><use href="#grip" x="610"/>
<use href="#press" x="616" y="1"/><polygon points="624,6 624,17.2 626.6,14.8 628.6,19.6 630.4,18.8 628.4,14.2 632,14" fill="#444"/>
<g fill="#555" shape-rendering="crispEdges"><rect x="656" y="6" width="1" height="6"/><rect x="656" y="15" width="1" height="6"/><rect x="649" y="13" width="6" height="1"/><rect x="658" y="13" width="6" height="1"/><rect x="656" y="13" width="1" height="1"/></g>
<use href="#sep" x="673"/>
<rect x="690" y="7" width="1" height="13" fill="#555" shape-rendering="crispEdges"/>
<rect x="713" y="13" width="12" height="1" fill="#555" shape-rendering="crispEdges"/>
<line x1="741" y1="20" x2="753" y2="8" stroke="#555" stroke-width="1.1"/>
<g stroke="#555" stroke-width="0.9" fill="none"><line x1="767" y1="14.5" x2="775" y2="7"/><line x1="769" y1="19" x2="780" y2="9.5"/><line x1="771.5" y1="20" x2="781" y2="12"/><path d="M769,12 l1,6 M772,10 l1,6 M775,8.5 l1,6 M778,5.5 l1,6"/></g>
<text x="777.8" y="22" font-size="7.2" font-weight="bold" fill="#2a2a2a" stroke="#2a2a2a" stroke-width="0.2">E</text>
<line x1="796" y1="6.5" x2="810" y2="6.5" stroke="#555" stroke-width="1" stroke-dasharray="1 1" shape-rendering="crispEdges"/>
<line x1="796" y1="9.5" x2="810" y2="9.5" stroke="#555" stroke-width="1" stroke-dasharray="1 1" shape-rendering="crispEdges"/>
<line x1="796" y1="13.5" x2="810" y2="13.5" stroke="#555" stroke-width="1" stroke-dasharray="1 1" shape-rendering="crispEdges"/>
<line x1="796" y1="17.5" x2="806" y2="17.5" stroke="#555" stroke-width="1" stroke-dasharray="1 1" shape-rendering="crispEdges"/>
<text x="805.8" y="22" font-size="7.2" font-weight="bold" fill="#2a2a2a" stroke="#2a2a2a" stroke-width="0.2">F</text>
<text x="827" y="18" font-size="12.6" fill="#505050" stroke="#505050" stroke-width="0.35" textLength="7.4" lengthAdjust="spacingAndGlyphs">A</text>
<rect x="853.5" y="7.5" width="11" height="12" fill="none" stroke="#555" stroke-width="1" stroke-dasharray="1 1" shape-rendering="crispEdges"/><rect x="852" y="6" width="2" height="1" fill="#555"/>
<g fill="#555" shape-rendering="crispEdges"><rect x="855" y="10" width="8" height="1.4"/><rect x="858.3" y="10" width="1.5" height="8"/></g>
<g fill="#555"><polygon points="880,11 883.5,7 887,11 885.2,11 885.2,12.4 881.8,12.4 881.8,11"/><polygon points="887.5,16 889.3,16 889.3,14.6 892.7,14.6 892.7,16 894.5,16 891,20"/><path d="M882.5,14 l2,2.5 l4.5,-5" stroke="#555" stroke-width="1.2" fill="none"/></g>
<use href="#dd" x="901" y="12"/>
<use href="#sepf" x="912"/><use href="#grip" x="916"/>
<use href="#press" x="1062" y="1"/>
<text x="927.1" y="17" font-size="10" fill="#3a3a3a" textLength="13.5" lengthAdjust="spacingAndGlyphs">M1</text>
<text x="955.1999999999999" y="17" font-size="10" fill="#3a3a3a" textLength="13.4" lengthAdjust="spacingAndGlyphs">M5</text>
<text x="981.1" y="17" font-size="10" fill="#3a3a3a" textLength="18.5" lengthAdjust="spacingAndGlyphs">M15</text>
<text x="1009.0" y="17" font-size="10" fill="#3a3a3a" textLength="18.6" lengthAdjust="spacingAndGlyphs">M30</text>
<text x="1040.0" y="17" font-size="10" fill="#3a3a3a" textLength="13.0" lengthAdjust="spacingAndGlyphs">H1</text>
<text x="1066.9" y="17" font-size="10" fill="#3a3a3a" textLength="13.5" lengthAdjust="spacingAndGlyphs">H4</text>
<text x="1095.9" y="17" font-size="10" fill="#3a3a3a" textLength="12.9" lengthAdjust="spacingAndGlyphs">D1</text>
<text x="1123.0" y="17" font-size="10" fill="#3a3a3a" textLength="15.8" lengthAdjust="spacingAndGlyphs">W1</text>
<text x="1150.0" y="17" font-size="10" fill="#3a3a3a" textLength="15.8" lengthAdjust="spacingAndGlyphs">MN</text>
<use href="#sepf" x="1173"/>
<g><line x1="1640.8" y1="13.4" x2="1636" y2="18" stroke="#2a62d6" stroke-width="2.6"/><circle cx="1643.6" cy="10.4" r="4" fill="#fdfdfd" stroke="#2a66dc" stroke-width="1.3"/></g>
<g><path d="M1660.4,15 a6.6,4.8 0 1 1 5.2,4.7 l-2.4,2 l0.2,-2.7 a6.6,4.8 0 0 1 -3,-4 z" fill="#e4e6ee" stroke="#b0b0b0" stroke-width="0.8"/><circle cx="1674.6" cy="10.4" r="8.2" fill="url(#gred)"/><text x="1673.4" y="14.9" font-size="12" fill="#fff" text-anchor="middle" font-family="DejaVu Sans, Liberation Sans, sans-serif">1</text></g>
</svg></div>
<div class="tbl1"></div><div class="tbl2"></div>
</body></html>
